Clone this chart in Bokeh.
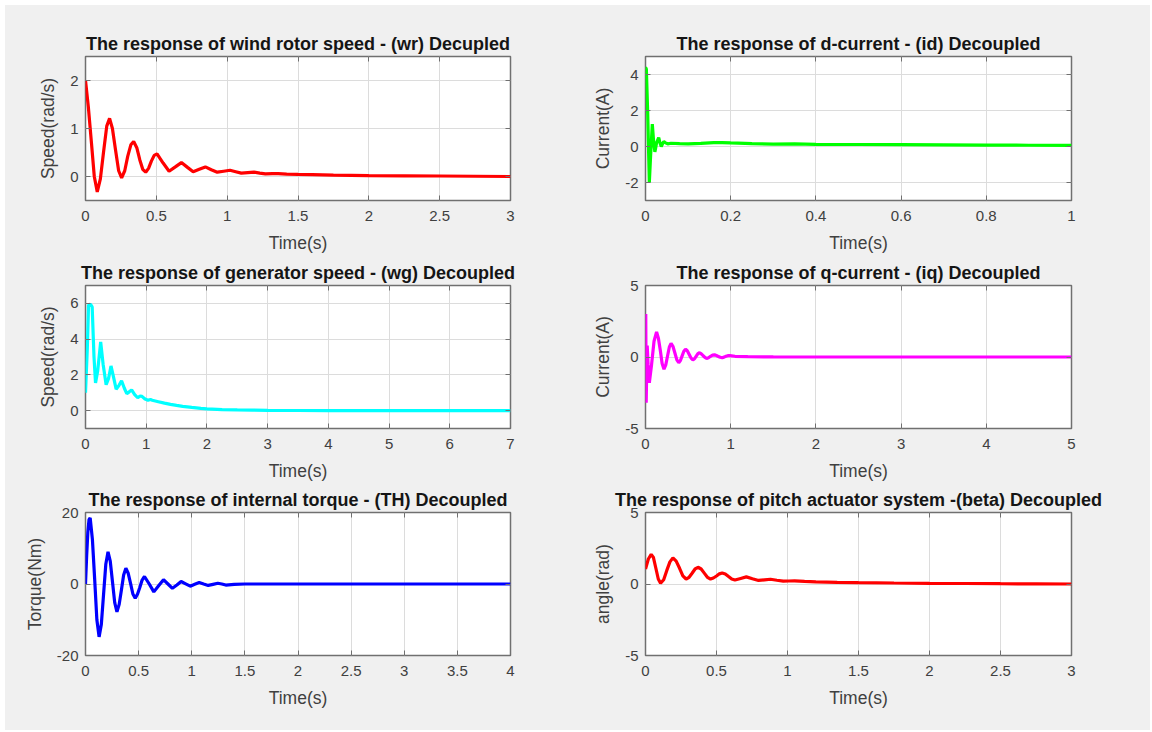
from bokeh.plotting import figure
from bokeh.layouts import column, row
from bokeh.models import Range1d, FixedTicker, CustomJSTickFormatter, LinearAxis
from bokeh.embed import file_html
from bokeh.resources import INLINE

# ---------------- data ----------------
t_wr = [0, 0.02, 0.042, 0.062, 0.083, 0.105, 0.127, 0.15, 0.17, 0.19,
        0.212, 0.234, 0.255, 0.277, 0.298, 0.32, 0.34, 0.362, 0.383, 0.404,
        0.425, 0.445, 0.465, 0.485, 0.505, 0.548, 0.59, 0.634, 0.677, 0.72,
        0.76, 0.803, 0.846, 0.888, 0.93, 0.975, 1.02, 1.06, 1.1, 1.145,
        1.19, 1.23, 1.27, 1.32, 1.36, 1.42, 1.5, 1.6, 1.75, 2.0,
        2.25, 2.5, 2.75, 3.0]
wr = [2.0, 1.45, 0.7, 0.0, -0.32, -0.05, 0.5, 1.05, 1.21, 1.0,
      0.55, 0.12, -0.03, 0.12, 0.42, 0.66, 0.73, 0.6, 0.35, 0.15,
      0.09, 0.17, 0.32, 0.44, 0.47, 0.28, 0.11, 0.2, 0.29, 0.19,
      0.1, 0.15, 0.2, 0.14, 0.09, 0.11, 0.13, 0.1, 0.07, 0.08,
      0.09, 0.07, 0.055, 0.06, 0.06, 0.05, 0.045, 0.04, 0.03, 0.02,
      0.015, 0.01, 0.005, 0.0]

t_id = [0, 0.002, 0.005, 0.009, 0.012, 0.016, 0.019, 0.022, 0.026, 0.031,
        0.034, 0.037, 0.04, 0.043, 0.047, 0.052, 0.06, 0.08, 0.1, 0.13,
        0.16, 0.18, 0.2, 0.25, 0.3, 0.35, 0.4, 0.5, 0.6, 0.7,
        0.8, 0.9, 1.0]
id_ = [4.4, 4.3, 2.0, -2.0, -0.5, 1.25, 0.3, -0.3, 0.2, 0.5,
       0.2, 0.0, 0.15, 0.28, 0.2, 0.15, 0.18, 0.16, 0.15, 0.17,
       0.21, 0.22, 0.2, 0.16, 0.13, 0.15, 0.12, 0.11, 0.1, 0.09,
       0.08, 0.07, 0.06]

t_wg = [0, 0.03, 0.05, 0.08, 0.11, 0.14, 0.165, 0.2, 0.25, 0.29,
        0.34, 0.38, 0.42, 0.46, 0.505, 0.55, 0.594, 0.64, 0.68, 0.72,
        0.76, 0.81, 0.86, 0.9, 0.93, 0.98, 1.03, 1.07, 1.1, 1.2,
        1.3, 1.4, 1.5, 1.6, 1.75, 1.9, 2.0, 2.25, 2.5, 2.75,
        3.0, 3.5, 4, 5, 6, 7]
wg = [1.0, 3.5, 5.9, 5.95, 5.8, 3.0, 1.55, 2.2, 3.85, 2.6,
      1.45, 1.8, 2.5, 1.9, 1.2, 1.4, 1.67, 1.25, 0.95, 1.05,
      1.16, 0.9, 0.72, 0.82, 0.8, 0.65, 0.58, 0.62, 0.58, 0.5,
      0.42, 0.35, 0.29, 0.24, 0.18, 0.13, 0.1, 0.06, 0.04, 0.025,
      0.015, 0.008, 0.004, 0.0, 0.0, 0.0]

t_iq = [0, 0.003, 0.008, 0.014, 0.02, 0.03, 0.045, 0.07, 0.1, 0.13,
        0.152, 0.174, 0.195, 0.217, 0.238, 0.258, 0.28, 0.30, 0.322, 0.345,
        0.368, 0.39, 0.41, 0.43, 0.45, 0.47, 0.492, 0.513, 0.535, 0.556,
        0.576, 0.596, 0.615, 0.635, 0.655, 0.676, 0.697, 0.717, 0.74, 0.763,
        0.787, 0.81, 0.832, 0.855, 0.877, 0.9, 0.922, 0.945, 0.967, 0.99,
        1.05, 1.2, 1.5, 2, 2.5, 3, 3.5, 4, 4.5, 5]
iq = [0, 3.0, -3.2, -1.0, 0.8, -0.5, -1.8, -0.6, 1.1, 1.75,
      1.3, 0.45, -0.45, -0.85, -0.55, 0.05, 0.7, 0.95, 0.75, 0.28,
      -0.2, -0.4, -0.25, 0.08, 0.4, 0.55, 0.42, 0.18, -0.08, -0.2,
      -0.12, 0.06, 0.23, 0.3, 0.22, 0.1, -0.03, -0.1, -0.05, 0.05,
      0.13, 0.15, 0.1, 0.04, -0.02, -0.05, -0.01, 0.05, 0.09, 0.1,
      0.05, 0.02, 0.01, 0.0, 0.0, 0.0, 0.0, 0.0, 0.0, 0.0]

t_th = [0, 0.011, 0.022, 0.033, 0.044, 0.065, 0.086, 0.107, 0.128, 0.149,
        0.17, 0.191, 0.212, 0.233, 0.254, 0.275, 0.296, 0.317, 0.338, 0.359,
        0.38, 0.402, 0.424, 0.446, 0.468, 0.49, 0.511, 0.533, 0.555, 0.6,
        0.643, 0.688, 0.734, 0.776, 0.818, 0.86, 0.9, 0.943, 0.986, 1.028,
        1.07, 1.112, 1.155, 1.2, 1.245, 1.283, 1.32, 1.4, 1.5, 1.75,
        2, 2.5, 3, 3.5, 4]
th = [0, 8.0, 14.5, 18.0, 18.5, 12.5, 1.5, -10.0, -14.8, -11.3,
      -2.9, 5.5, 9.0, 6.4, 0.6, -5.2, -7.8, -5.7, -1.7, 2.5,
      4.4, 3.0, 0.2, -2.8, -4.0, -2.8, -1.0, 1.1, 2.1, 0.0,
      -2.2, -0.5, 1.2, 0.0, -1.2, -0.3, 0.7, 0.05, -0.6, -0.1,
      0.4, 0.0, -0.4, -0.1, 0.2, 0.0, -0.3, -0.1, 0.0, 0.0,
      0.0, 0.0, 0.0, 0.0, 0.0]

t_beta = [0, 0.02, 0.04, 0.056, 0.073, 0.09, 0.106, 0.128, 0.15, 0.172,
          0.193, 0.216, 0.24, 0.263, 0.286, 0.307, 0.328, 0.349, 0.37, 0.392,
          0.414, 0.436, 0.458, 0.478, 0.5, 0.52, 0.54, 0.562, 0.585, 0.607,
          0.63, 0.67, 0.71, 0.753, 0.796, 0.838, 0.88, 0.925, 0.97, 1.01,
          1.05, 1.12, 1.2, 1.35, 1.5, 1.75, 2.0, 2.25, 2.5, 2.75,
          3.0]
beta = [1.05, 1.75, 2.07, 1.85, 1.1, 0.35, 0.05, 0.3, 0.95, 1.55,
        1.83, 1.6, 1.1, 0.57, 0.35, 0.47, 0.75, 1.05, 1.17, 1.05,
        0.76, 0.47, 0.35, 0.42, 0.56, 0.71, 0.77, 0.7, 0.52, 0.35,
        0.28, 0.39, 0.5, 0.37, 0.25, 0.29, 0.33, 0.26, 0.2, 0.21,
        0.22, 0.18, 0.15, 0.12, 0.1, 0.07, 0.05, 0.035, 0.02, 0.01,
        0.0]

titles = [
    "The response of wind rotor speed - (wr) Decupled",
    "The response of d-current - (id) Decoupled",
    "The response of generator speed - (wg) Decoupled",
    "The response of q-current - (iq) Decoupled",
    "The response of internal torque - (TH) Decoupled",
    "The response of pitch actuator system -(beta) Decoupled",
]
ylabels = ["Speed(rad/s)", "Current(A)", "Speed(rad/s)", "Current(A)", "Torque(Nm)", "angle(rad)"]
xlabel = "Time(s)"

xticks_wr = [0, 0.5, 1, 1.5, 2, 2.5, 3]
yticks_wr = [0, 1, 2]
xticks_id = [0, 0.2, 0.4, 0.6, 0.8, 1]
yticks_id = [-2, 0, 2, 4]
xticks_wg = [0, 1, 2, 3, 4, 5, 6, 7]
yticks_wg = [0, 2, 4, 6]
xticks_iq = [0, 1, 2, 3, 4, 5]
yticks_iq = [-5, 0, 5]
xticks_th = [0, 0.5, 1, 1.5, 2, 2.5, 3, 3.5, 4]
yticks_th = [-20, 0, 20]
xticks_beta = [0, 0.5, 1, 1.5, 2, 2.5, 3]
yticks_beta = [-5, 0, 5]

# ---------------- styling ----------------
FONT = "Liberation Sans"
BG = "#f0f0f0"
AX = "#707070"
TXT = "#404040"
fmt = CustomJSTickFormatter(code="return tick.toString();")
blank = CustomJSTickFormatter(code="return '';")


def panel(title, ylabel, t, y, color, xt, yt, xr, yr, w, h, bl, br, bt, bb):
    p = figure(width=w, height=h, output_backend="svg", toolbar_location=None,
               x_range=Range1d(*xr), y_range=Range1d(*yr),
               min_border_left=bl, min_border_right=br,
               min_border_top=bt, min_border_bottom=bb,
               background_fill_color="white", border_fill_color=BG,
               outline_line_color=AX, outline_line_width=1.5)
    p.title.text = title
    p.title.align = "center"
    p.title.text_font = FONT
    p.title.text_font_size = "18px"
    p.title.text_font_style = "bold"
    p.title.text_color = "#151515"
    p.title.standoff = 6
    p.title.offset = 0
    p.xaxis.axis_label = xlabel
    p.yaxis.axis_label = ylabel
    for ax in (p.xaxis[0], p.yaxis[0]):
        ax.axis_label_text_font = FONT
        ax.axis_label_text_font_size = "17.5px"
        ax.axis_label_text_font_style = "normal"
        ax.axis_label_text_color = TXT
        ax.major_label_text_font = FONT
        ax.major_label_text_font_size = "15px"
        ax.major_label_text_color = TXT
        ax.axis_line_color = None
        ax.major_tick_in = 5
        ax.major_tick_out = 0
        ax.major_tick_line_color = AX
        ax.minor_tick_line_color = None
        ax.formatter = fmt
    p.xaxis.ticker = FixedTicker(ticks=xt)
    p.yaxis.ticker = FixedTicker(ticks=yt)
    p.xaxis.major_label_standoff = 10
    p.yaxis.major_label_standoff = 7
    p.xaxis.axis_label_standoff = 9
    p.yaxis.axis_label_standoff = 9
    # mirrored ticks on top and right (box on)
    for side in ("above", "right"):
        ax = LinearAxis(ticker=FixedTicker(ticks=xt if side == "above" else yt),
                        formatter=blank, axis_line_color=None,
                        major_tick_in=5, major_tick_out=0, major_tick_line_color=AX,
                        minor_tick_line_color=None, major_label_standoff=0,
                        major_label_text_font_size="0px")
        p.add_layout(ax, side)
    p.xgrid.ticker = FixedTicker(ticks=xt)
    p.ygrid.ticker = FixedTicker(ticks=yt)
    p.grid.grid_line_color = "#dcdcdc"
    p.grid.grid_line_width = 1
    p.line(t, y, line_color=color, line_width=3.2)
    return p


LW, RW = 572, 573
LB = (80, 67)
RB = (68, 79)
rows_spec = [(252, 51, 57), (227, 27, 56), (246, 27, 75)]

p1 = panel(titles[0], ylabels[0], t_wr, wr, "#ff0000", xticks_wr, yticks_wr, (0, 3), (-0.5, 2.5),
           LW, rows_spec[0][0], LB[0], LB[1], rows_spec[0][1], rows_spec[0][2])
p2 = panel(titles[1], ylabels[1], t_id, id_, "#00ff00", xticks_id, yticks_id, (0, 1), (-3, 5),
           RW, rows_spec[0][0], RB[0], RB[1], rows_spec[0][1], rows_spec[0][2])
p3 = panel(titles[2], ylabels[2], t_wg, wg, "#00ffff", xticks_wg, yticks_wg, (0, 7), (-1, 7),
           LW, rows_spec[1][0], LB[0], LB[1], rows_spec[1][1], rows_spec[1][2])
p4 = panel(titles[3], ylabels[3], t_iq, iq, "#ff00ff", xticks_iq, yticks_iq, (0, 5), (-5, 5),
           RW, rows_spec[1][0], RB[0], RB[1], rows_spec[1][1], rows_spec[1][2])
p5 = panel(titles[4], ylabels[4], t_th, th, "#0000ff", xticks_th, yticks_th, (0, 4), (-20, 20),
           LW, rows_spec[2][0], LB[0], LB[1], rows_spec[2][1], rows_spec[2][2])
p6 = panel(titles[5], ylabels[5], t_beta, beta, "#ff0000", xticks_beta, yticks_beta, (0, 3), (-5, 5),
           RW, rows_spec[2][0], RB[0], RB[1], rows_spec[2][1], rows_spec[2][2])

sty = {"background-color": BG}
layout = column(row(p1, p2, styles=sty), row(p3, p4, styles=sty), row(p5, p6, styles=sty),
                styles=sty, margin=(5, 0, 0, 5))
open("out.html", "w").write(file_html(layout, INLINE))
